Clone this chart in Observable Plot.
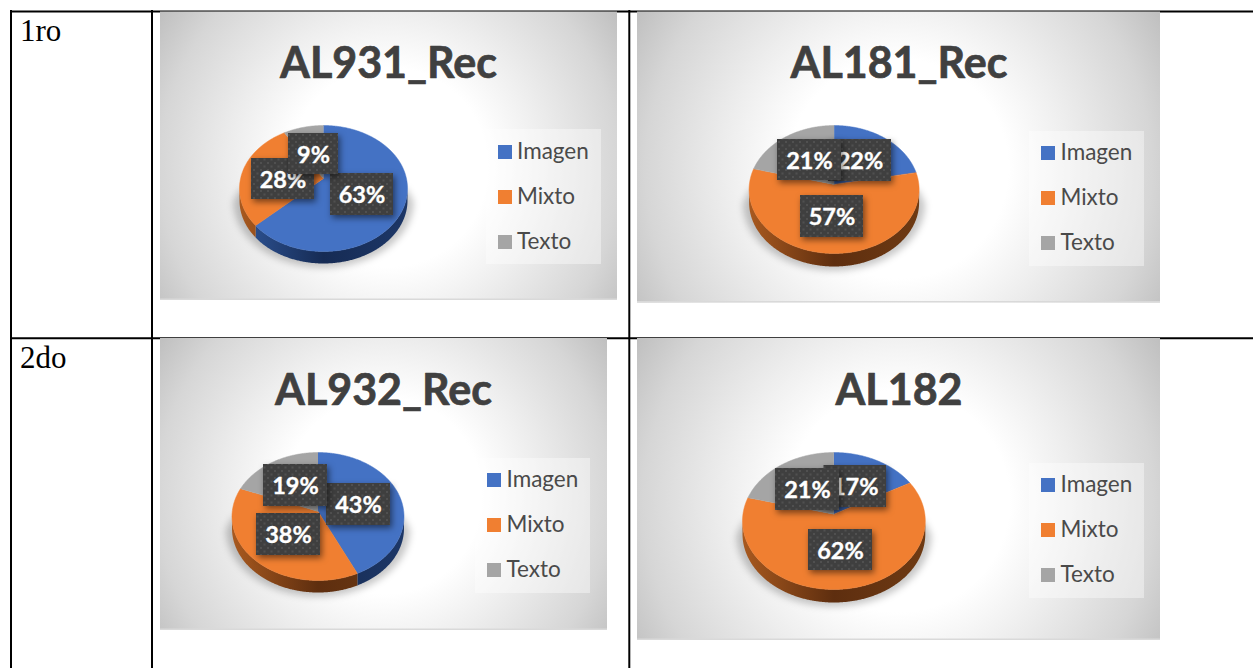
<!DOCTYPE html>
<html><head><meta charset="utf-8">
<style>html,body{margin:0;padding:0;background:#fff}svg{display:block}</style>
<script src="https://cdn.jsdelivr.net/npm/d3@7"></script>
<script src="https://cdn.jsdelivr.net/npm/@observablehq/plot@0.6"></script>
</head><body><script>
// ---- data ----
const categories = ["Imagen", "Mixto", "Texto"];
const chartTitles = ["AL931_Rec", "AL181_Rec", "AL932_Rec", "AL182"];
const imagen = [63, 22, 43, 17];
const mixto  = [28, 57, 38, 62];
const texto  = [9, 21, 19, 21];
const rowLabels = ["1ro", "2do"];

// ---- layout ----
const W = 1253, H = 668;
const colors = ["#4472c4", "#f07f31", "#a5a5a5"];
const wallStops = [
  ["#2f5597", "#162b54", "#1d3767"],
  ["#a8591f", "#5e2e0f", "#6e3a13"],
  ["#777777", "#555555", "#666666"]
];
const panels = [
  {x1:160,x2:617,y1:11.5,y2:300, tx:388,ty:77,  cx:323,  cy:188,  rx:84,  ry:63,  d:12, k:.16,
   lg:[486,601,129,264], sw:498, swY:[145,190,235], ltx:516.5,
   boxes:[[330,393,173,215],[251,314,158,199],[288,338,133,174]]},
  {x1:637,x2:1160,y1:11.5,y2:302.5, tx:898.5,ty:77, cx:833.6,cy:189, rx:85,  ry:64,  d:13, k:.08,
   lg:[1029,1144,131,266], sw:1041, swY:[146,191,236], ltx:1060,
   boxes:[[828,891,139,181],[800,863,195,237],[777,841,139,180]]},
  {x1:160,x2:607,y1:338,y2:630, tx:383,ty:404, cx:317.5,cy:516,  rx:86,  ry:64,  d:12, k:.08,
   lg:[475,590,458,593], sw:487, swY:[473,518,563], ltx:506,
   boxes:[[326,390,483,525],[256,320,513,555],[263,327,464,506]]},
  {x1:637,x2:1160,y1:338,y2:640, tx:898.5,ty:404, cx:833.4,cy:520.5,rx:91.4,ry:68.5,d:13, k:.10,
   lg:[1029,1144,463,598], sw:1041, swY:[478,523,568], ltx:1060,
   boxes:[[823.5,886,465,507],[808,872,529,570],[775,839,468,510]]}
];
panels.forEach((p, i) => { p.bg = `url(#bg-${i})`; });

// perspective projection of a point on the pie's rim
function project(p, deg) {
  const t = deg * Math.PI / 180, u = Math.sin(t), v = Math.cos(t);
  const w = 1 + p.k * v, s = Math.sqrt(1 - p.k * p.k), b = p.ry * (1 - p.k * p.k);
  return {x: p.cx + p.rx * s * u / w, y: p.cy - p.ry * p.k - b * v / w};
}

const topPts = [], wallPts = [], shadowPts = [];
panels.forEach((p, i) => {
  const vals = [imagen[i], mixto[i], texto[i]];
  p.vals = vals;
  const total = d3.sum(vals);
  let acc = 0;
  vals.forEach((v, j) => {
    const a0 = acc / total * 360, a1 = (acc + v) / total * 360;
    acc += v;
    const id = `${i}-${j}`, n = Math.ceil((a1 - a0) * 2);
    const arc = d3.range(n + 1).map(q => project(p, a0 + (a1 - a0) * q / n));
    const apex = {x: p.cx, y: p.cy - p.ry * p.k};
    [apex, ...arc].forEach(c => topPts.push({id, category: categories[j], x: c.x, y: c.y}));
    const low = arc.filter(c => c.y >= p.cy);
    if (low.length > 1) {
      const fill = `url(#wall-${i}-${j})`;
      low.forEach(c => wallPts.push({id, fill, x: c.x, y: c.y}));
      low.slice().reverse().forEach(c => wallPts.push({id, fill, x: c.x, y: c.y + p.d}));
    }
  });
  shadowPts.push({id: i, x: p.cx + p.rx - 1, y: p.cy});
  d3.range(0, 181, 3).forEach(a => {
    const r = a * Math.PI / 180;
    shadowPts.push({id: i, x: p.cx + (p.rx + 6) * Math.cos(r), y: p.cy + p.d + 1 + (p.ry + 3) * Math.sin(r)});
  });
  shadowPts.push({id: i, x: p.cx - p.rx + 1, y: p.cy});
});

function defs() {
  const svgNS = "http://www.w3.org/2000/svg";
  const d = document.createElementNS(svgNS, "defs");
  let html = `<pattern id="dots" width="7" height="7" patternUnits="userSpaceOnUse">
    <rect width="7" height="7" fill="#3f3f3f"/>
    <rect x="1" y="1" width="2" height="2" fill="#505050"/>
    <rect x="4.5" y="4.5" width="2" height="2" fill="#505050"/></pattern>`;
  panels.forEach((p, i) => {
    const gx = (p.x1 + p.x2) / 2, gy = p.y1 + (p.y2 - p.y1) * .54;
    const r = Math.hypot((p.x2 - p.x1) / 2, (p.y2 - p.y1) * .54);
    html += `<radialGradient id="bg-${i}" gradientUnits="userSpaceOnUse" cx="${gx}" cy="${gy}" r="${r}">
      <stop offset="0" stop-color="#fff"/><stop offset=".36" stop-color="#fff"/>
      <stop offset=".56" stop-color="#eeeeee"/><stop offset=".83" stop-color="#d6d6d6"/>
      <stop offset="1" stop-color="#bfbfbf"/></radialGradient>`;
    wallStops.forEach((s, j) => {
      html += `<linearGradient id="wall-${i}-${j}" gradientUnits="userSpaceOnUse" x1="${p.cx - p.rx}" x2="${p.cx + p.rx}" y1="0" y2="0">
        <stop offset="0" stop-color="${s[0]}"/><stop offset=".5" stop-color="${s[1]}"/><stop offset="1" stop-color="${s[2]}"/></linearGradient>`;
    });
  });
  d.innerHTML = html;
  return d;
}

const serif = "'Liberation Serif', serif", sans = "Lato, sans-serif";
const lineOpts = {stroke: "#000", strokeWidth: 2};

const labelMarks = panels.flatMap((p, i) => p.vals.flatMap((v, j) => {
  const [x1, x2, y1, y2] = p.boxes[j];
  return [
    Plot.rect([{x1, x2, y1, y2}], {x1: "x1", x2: "x2", y1: "y1", y2: "y2", fill: "url(#dots)",
      imageFilter: "drop-shadow(2px 3px 3px rgba(0,0,0,.5))"}),
    Plot.text([{x: (x1 + x2) / 2, y: (y1 + y2) / 2 + 1, t: v + "%"}], {x: "x", y: "y", text: "t",
      fill: "#fff", stroke: "#fff", strokeWidth: .35, fontFamily: sans, fontWeight: 700, fontSize: 23.5, lineAnchor: "middle"})
  ];
}));

const legendBg = panels.map(p => ({x1: p.lg[0], x2: p.lg[1], y1: p.lg[2], y2: p.lg[3]}));
const legendItems = panels.flatMap(p => categories.map((c, j) => ({
  category: c, x1: p.sw, x2: p.sw + 14, y1: p.swY[j], y2: p.swY[j] + 14, tx: p.ltx, ty: p.swY[j] + 6.6
})));

const chart = Plot.plot({
  width: W, height: H, margin: 0,
  x: {domain: [0, W], range: [0, W], axis: null},
  y: {domain: [0, H], range: [0, H], axis: null},
  color: {domain: categories, range: colors},
  style: {background: "#fff"},
  marks: [
    defs,
    Plot.ruleY([11], {x1: 10, x2: W, ...lineOpts}),
    Plot.ruleY([337.8], {x1: 10, x2: W, ...lineOpts}),
    Plot.ruleX([10.5], {y1: 10, y2: H, ...lineOpts}),
    Plot.ruleX([151.5], {y1: 10, y2: H, ...lineOpts}),
    Plot.ruleX([628.8], {y1: 10, y2: H, ...lineOpts}),
    Plot.text(rowLabels, {x: 19.5, y: [40, 367], text: d => d, textAnchor: "start", lineAnchor: "bottom",
      fontFamily: serif, fontSize: 31, fill: "#000"}),
    Plot.rect(panels, {x1: "x1", x2: "x2", y1: "y1", y2: "y2", fill: {value: "bg", scale: null}}),
    Plot.rect(panels, {x1: "x1", x2: "x2", y1: d => d.y2 - 1.5, y2: "y2", fill: "#d9d9d9"}),
    Plot.text(panels, {x: "tx", y: "ty", text: (d, i) => chartTitles[i], lineAnchor: "bottom",
      fontFamily: sans, fontWeight: 700, fontSize: 43, fill: "#404040", stroke: "#404040", strokeWidth: .7}),
    Plot.line(shadowPts, {x: "x", y: "y", z: "id", fill: "#000", fillOpacity: .22, stroke: "none",
      imageFilter: "blur(3.5px)"}),
    Plot.line(wallPts, {x: "x", y: "y", z: "id", fill: {value: "fill", scale: null}, stroke: "none"}),
    Plot.line(topPts, {x: "x", y: "y", z: "id", fill: "category", stroke: "category", strokeWidth: .5}),
    Plot.rect(legendBg, {x1: "x1", x2: "x2", y1: "y1", y2: "y2", fill: "#fff", fillOpacity: .4}),
    Plot.rect(legendItems, {x1: "x1", x2: "x2", y1: "y1", y2: "y2", fill: "category"}),
    Plot.text(legendItems, {x: "tx", y: "ty", text: "category", textAnchor: "start", lineAnchor: "middle",
      fontFamily: sans, fontSize: 22.5, fill: "#4a4a4a"}),
    ...labelMarks
  ]
});
document.body.appendChild(chart);
</script></body></html>
